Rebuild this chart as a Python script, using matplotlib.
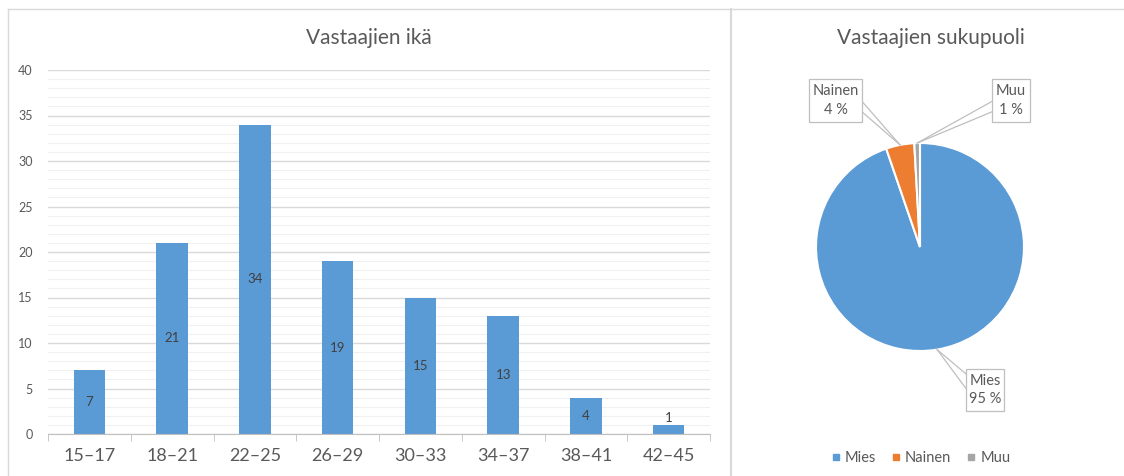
import numpy as np
import matplotlib
matplotlib.use("Agg")
import matplotlib.pyplot as plt
from matplotlib.patches import Rectangle
from matplotlib.lines import Line2D

plt.rcParams['font.family'] = ['Lato', 'DejaVu Sans']

# data
age_groups = ['15–17', '18–21', '22–25', '26–29', '30–33', '34–37', '38–41', '42–45']
age_counts = [7, 21, 34, 19, 15, 13, 4, 1]
genders = ['Mies', 'Nainen', 'Muu']
gender_counts = [108, 5, 1]

blue = '#5b9bd5'
orange = '#ed7d31'
gray = '#a5a5a5'
txt = '#595959'

W, H = 1124, 476
fig = plt.figure(figsize=(W / 100, H / 100), dpi=100)

# chart frames
bg = fig.add_axes([0, 0, 1, 1], zorder=-5)
bg.set_xlim(0, W)
bg.set_ylim(H, 0)
bg.axis('off')
frame = '#d9d9d9'
bg.plot([8, 8], [9, H], color=frame, lw=1)
bg.plot([8, W], [9, 9], color=frame, lw=1)
bg.plot([730.5, 730.5], [9, H], color=frame, lw=1.5)

# ---- bar chart ----
ax = fig.add_axes([48 / W, 42 / H, 662 / W, 364 / H])
x = np.arange(len(age_groups))
ax.bar(x, age_counts, width=0.38, color=blue, zorder=3)
ax.set_xlim(-0.5, len(age_groups) - 0.5)
ax.set_ylim(0, 40)
ax.set_yticks(np.arange(0, 41, 5))
ax.set_yticks(np.arange(0, 41, 1), minor=True)
ax.grid(which='major', axis='y', color='#d9d9d9', lw=1, zorder=0)
ax.grid(which='minor', axis='y', color='#f0f0f0', lw=0.8, zorder=0)
for s in ['top', 'right', 'left']:
    ax.spines[s].set_visible(False)
ax.spines['bottom'].set_color('#bfbfbf')
ax.spines['bottom'].set_zorder(4)
ax.set_xticks(x)
ax.set_xticklabels(age_groups, fontsize=13, color=txt)
ax.set_xticks(np.arange(-0.5, len(age_groups)), minor=True)
ax.tick_params(axis='x', which='major', length=0, pad=10)
ax.tick_params(axis='x', which='minor', length=5, color='#bfbfbf', direction='out')
ax.tick_params(axis='y', which='both', length=0, pad=11, labelsize=9, labelcolor=txt)
for xi, v in zip(x, age_counts):
    ax.text(xi, max(v / 2, 1.8), str(v), ha='center', va='center',
            fontsize=9.5, color='#404040', zorder=5)
fig.text(369 / W, 1 - 38 / H, 'Vastaajien ikä', ha='center', va='center',
         fontsize=15, color=txt)

# ---- pie chart ----
R = 104
ax2 = fig.add_axes([(920 - R) / W, (476 - 247 - R) / H, 2 * R / W, 2 * R / H])
wedges, _ = ax2.pie(gender_counts, colors=[blue, orange, gray], startangle=90,
                    counterclock=False, radius=1,
                    wedgeprops=dict(edgecolor='white', linewidth=1.5))
ax2.set_xlim(-1, 1)
ax2.set_ylim(-1, 1)
ax2.set_aspect('auto')
fig.text(931 / W, 1 - 38 / H, 'Vastaajien sukupuoli', ha='center', va='center',
         fontsize=15, color=txt)

total = sum(gender_counts)
# box (x0, x1, y0, y1) in pie radius units, and side the leader attaches to
boxes = [(0.442, 0.808, -1.577, -1.173, 'left', (-1.22, -1.36)),
         (-1.067, -0.558, 1.20, 1.615, 'right', (1.30, 1.40)),
         (0.692, 1.058, 1.20, 1.615, 'left', (1.30, 1.40))]
for w, name, cnt, (x0, x1, y0, y1, side, ys) in zip(wedges, genders, gender_counts, boxes):
    th = np.deg2rad((w.theta1 + w.theta2) / 2)
    tip = (np.cos(th), np.sin(th))
    ex = x0 if side == 'left' else x1
    for yy in ys:
        ax2.add_line(Line2D([tip[0], ex], [tip[1], yy], color='#bfbfbf', lw=0.9,
                            clip_on=False, zorder=1))
    ax2.add_patch(Rectangle((x0, y0), x1 - x0, y1 - y0, fc='white', ec='#bfbfbf',
                            lw=0.9, clip_on=False, zorder=2))
    ax2.text((x0 + x1) / 2, (y0 + y1) / 2, f'{name}\n{round(100 * cnt / total)} %',
             ha='center', va='center', fontsize=10.5, color=txt, linespacing=1.45,
             clip_on=False, zorder=3)

handles = [Line2D([], [], marker='s', ls='', color=c, markersize=5)
           for c in [blue, orange, gray]]
fig.legend(handles, genders, loc='center', bbox_to_anchor=(920 / W, 1 - 458 / H),
           ncol=3, frameon=False, fontsize=10.5, labelcolor=txt, handletextpad=0.2,
           columnspacing=1.0, handlelength=0.8)

fig.savefig('out.png', dpi=100)
